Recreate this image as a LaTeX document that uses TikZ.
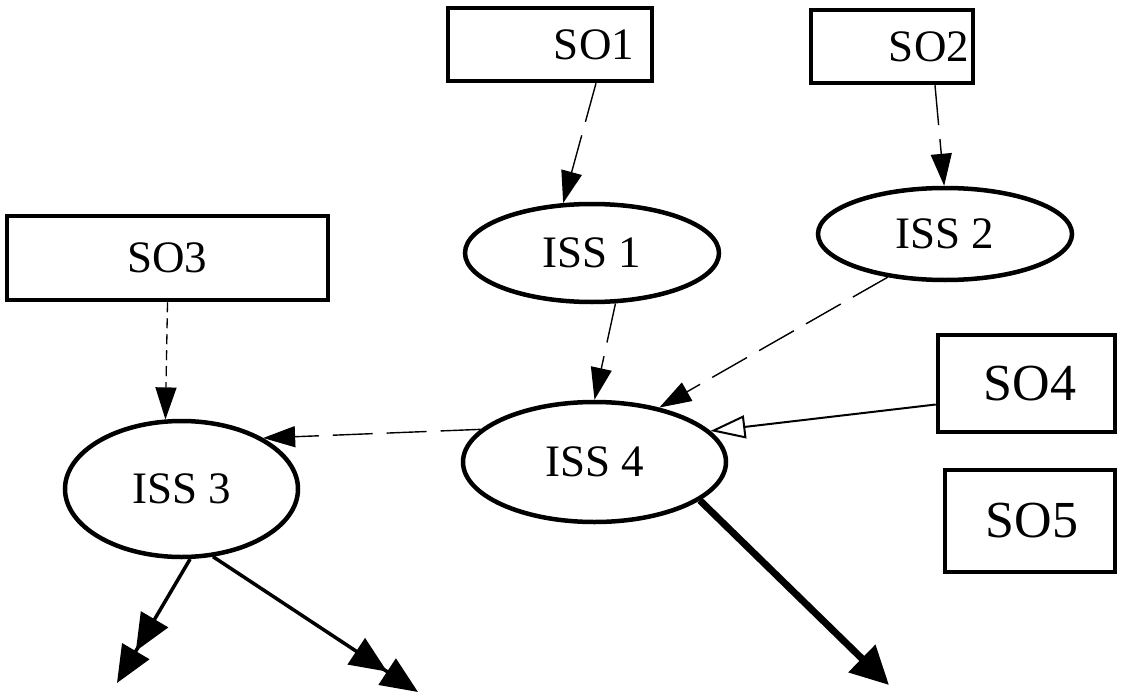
\documentclass[tikz,border=0pt]{standalone}
\usepackage{fontspec}
\setmainfont{Liberation Serif}
\usetikzlibrary{arrows.meta,shapes.geometric,calc}

\tikzset{
  sobox/.style={draw, line width=4.5pt, rectangle, inner sep=0pt,
    font=\fontsize{45}{54}\selectfont},
  issnode/.style={draw, line width=4.5pt, ellipse, inner sep=0pt,
    font=\fontsize{45}{54}\selectfont},
  tip/.style={-{Triangle[length=32pt,width=21pt]}},
  dashlong/.style={tip, line width=1.4pt, dash pattern=on 40pt off 14pt},
  dashshort/.style={tip, line width=1.3pt, dash pattern=on 10pt off 6pt},
  opentip/.style={-{Triangle[open,length=35pt,width=23pt]}, line width=2pt},
  doubletip/.style={-{Triangle[length=37pt,width=31pt]Triangle[length=37pt,width=31pt]}, line width=3.5pt},
  heavy/.style={-{Triangle[length=38pt,width=37pt]}, line width=7pt}
}

\begin{document}
\begin{tikzpicture}[x=1pt,y=-1pt]
  \useasboundingbox (0,0) rectangle (1127,698);

  % source boxes (labels of SO1 and SO2 sit towards the right border)
  \node[sobox, minimum width=204pt, minimum height=73pt] (so1) at (550,44.5) {\hspace*{88pt}SO1};
  \node[sobox, minimum width=162pt, minimum height=73pt] (so2) at (892,46.5) {\hspace*{74pt}SO2};
  \node[sobox, minimum width=321pt, minimum height=84pt] (so3) at (167.5,258) {SO3};
  \node[sobox, minimum width=177pt, minimum height=97pt,
        font=\fontsize{52}{62}\selectfont] (so4) at (1026.5,383.5) {\hspace*{7pt}SO4};
  \node[sobox, minimum width=170pt, minimum height=102pt,
        font=\fontsize{52}{62}\selectfont] (so5) at (1030,521) {\hspace*{4pt}SO5};

  % issue ellipses
  \node[issnode, minimum width=254pt, minimum height=98pt] (iss1) at (592,253) {ISS 1};
  \node[issnode, minimum width=254pt, minimum height=92pt] (iss2) at (945,234) {ISS 2};
  \node[issnode, minimum width=263pt, minimum height=120pt] (iss4) at (594.5,462) {ISS 4};
  \node[issnode, minimum width=233pt, minimum height=136pt] (iss3) at (181.5,489) {ISS 3};

  % loose ends of the outgoing edges
  \coordinate (out1) at (117,683);
  \coordinate (out2) at (418,692);
  \coordinate (out3) at (889,685);

  % connectors
  \draw[dashlong] ($(so1.south)+(46,0)$) -- (iss1.120);
  \draw[dashlong] ($(so2.south)+(43,0)$) -- (iss2.91);
  \draw[dashshort] (so3.south) -- (iss3.103);
  \draw[dashlong] (iss1.-65) -- (iss4.north);
  \draw[dashlong] (iss2.217) -- (iss4.40);
  \draw[opentip] ($(so4.west)+(0,21)$) -- (iss4.15.7);
  \draw[dashlong] (iss4.164.6) -- (iss3.32);
  \draw[heavy] (iss4.-20.2) -- (out3);
  \draw[doubletip] (iss3.-83) -- (out1);
  \draw[doubletip] (iss3.-65) -- (out2);
\end{tikzpicture}
\end{document}
